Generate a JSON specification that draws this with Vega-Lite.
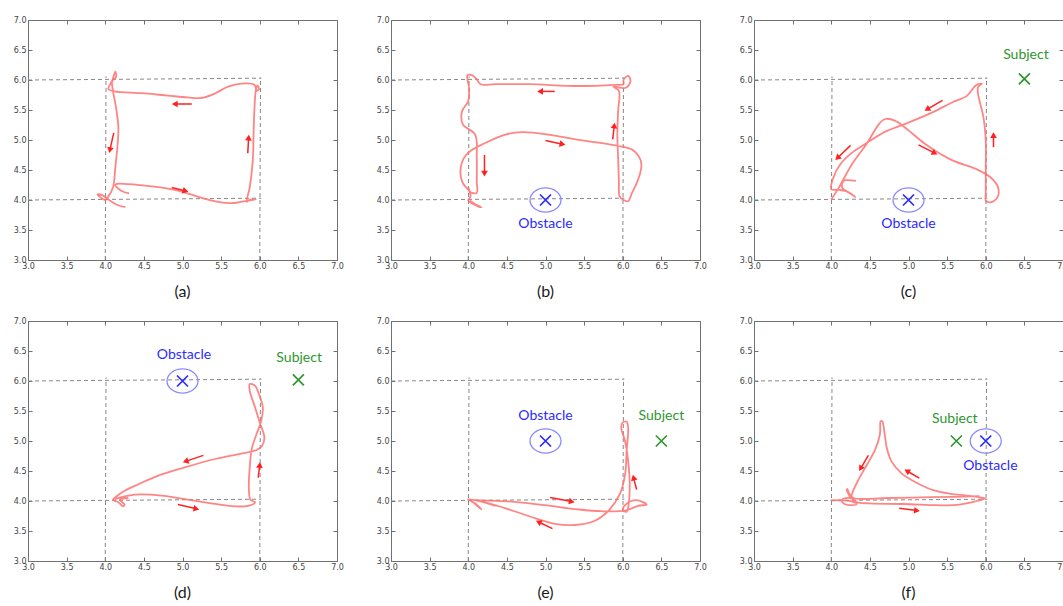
{
"$schema":"https://vega.github.io/schema/vega-lite/v6.json",
"padding":{"left":12,"top":15,"right":5,"bottom":5},
"config":{
 "view":{"stroke":"#707070","strokeWidth":1},
 "axis":{"domain":false,"grid":false,"tickSize":-4,"tickColor":"#707070","labelPadding":6,"labelFont":"DejaVu Sans","labelFontSize":8,"labelColor":"#444","tickCount":8,"format":".1f","title":null,"labelFlush":false,"labelOverlap":false},
 "title":{"orient":"bottom","offset":14,"font":"Lato","fontSize":16,"fontWeight":"normal","color":"#1a1a1a"}
},
"datasets":{
 "guides":[{"x":3,"y":4,"x2":6.02,"y2":4.03},{"x":3,"y":6,"x2":6.02,"y2":6.03},{"x":4,"y":3,"x2":4.01,"y2":6.06},{"x":6,"y":3,"x2":6.01,"y2":6.04}],
 "traj":[
{"p":"a","i":0,"x":4.31,"y":4.11},{"p":"a","i":1,"x":4.2,"y":4.16},{"p":"a","i":2,"x":4.13,"y":4.25},{"p":"a","i":3,"x":4.15,"y":4.27},{"p":"a","i":4,"x":4.51,"y":4.24},{"p":"a","i":5,"x":4.9,"y":4.17},{"p":"a","i":6,"x":5.24,"y":4.04},{"p":"a","i":7,"x":5.5,"y":3.96},{"p":"a","i":8,"x":5.67,"y":3.95},{"p":"a","i":9,"x":5.85,"y":3.99},{"p":"a","i":10,"x":5.95,"y":4.01},{"p":"a","i":11,"x":5.86,"y":4.0},{"p":"a","i":12,"x":5.83,"y":3.97},{"p":"a","i":13,"x":5.87,"y":4.21},{"p":"a","i":14,"x":5.91,"y":4.66},{"p":"a","i":15,"x":5.92,"y":5.1},{"p":"a","i":16,"x":5.93,"y":5.49},{"p":"a","i":17,"x":5.95,"y":5.83},{"p":"a","i":18,"x":5.97,"y":5.91},{"p":"a","i":19,"x":5.99,"y":5.85},{"p":"a","i":20,"x":5.96,"y":5.82},{"p":"a","i":21,"x":5.93,"y":5.92},{"p":"a","i":22,"x":5.76,"y":5.94},{"p":"a","i":23,"x":5.59,"y":5.89},{"p":"a","i":24,"x":5.41,"y":5.77},{"p":"a","i":25,"x":5.24,"y":5.7},{"p":"a","i":26,"x":5.07,"y":5.71},{"p":"a","i":27,"x":4.81,"y":5.74},{"p":"a","i":28,"x":4.47,"y":5.78},{"p":"a","i":29,"x":4.12,"y":5.81},{"p":"a","i":30,"x":4.04,"y":5.85},{"p":"a","i":31,"x":4.09,"y":5.99},{"p":"a","i":32,"x":4.13,"y":6.14},{"p":"a","i":33,"x":4.14,"y":6.05},{"p":"a","i":34,"x":4.09,"y":5.98},{"p":"a","i":35,"x":4.1,"y":5.82},{"p":"a","i":36,"x":4.14,"y":5.54},{"p":"a","i":37,"x":4.17,"y":5.21},{"p":"a","i":38,"x":4.16,"y":4.93},{"p":"a","i":39,"x":4.13,"y":4.54},{"p":"a","i":40,"x":4.1,"y":4.21},{"p":"a","i":41,"x":4.03,"y":4.04},{"p":"a","i":42,"x":4.0,"y":4.0},{"p":"a","i":43,"x":3.9,"y":4.09},{"p":"a","i":44,"x":3.96,"y":4.08},{"p":"a","i":45,"x":4.05,"y":4.0},{"p":"a","i":46,"x":4.15,"y":3.92},{"p":"a","i":47,"x":4.26,"y":3.88},
{"p":"b","i":0,"x":4.01,"y":4.16},{"p":"b","i":1,"x":3.92,"y":4.31},{"p":"b","i":2,"x":3.91,"y":4.59},{"p":"b","i":3,"x":4.0,"y":4.79},{"p":"b","i":4,"x":4.22,"y":4.95},{"p":"b","i":5,"x":4.48,"y":5.09},{"p":"b","i":6,"x":4.7,"y":5.13},{"p":"b","i":7,"x":5.04,"y":5.09},{"p":"b","i":8,"x":5.39,"y":5.01},{"p":"b","i":9,"x":5.91,"y":4.91},{"p":"b","i":10,"x":6.12,"y":4.84},{"p":"b","i":11,"x":6.23,"y":4.67},{"p":"b","i":12,"x":6.24,"y":4.54},{"p":"b","i":13,"x":6.19,"y":4.31},{"p":"b","i":14,"x":6.12,"y":4.12},{"p":"b","i":15,"x":6.07,"y":3.98},{"p":"b","i":16,"x":6.01,"y":4.0},{"p":"b","i":17,"x":5.96,"y":4.06},{"p":"b","i":18,"x":5.95,"y":4.31},{"p":"b","i":19,"x":5.94,"y":4.7},{"p":"b","i":20,"x":5.93,"y":5.09},{"p":"b","i":21,"x":5.94,"y":5.48},{"p":"b","i":22,"x":5.95,"y":5.82},{"p":"b","i":23,"x":5.88,"y":5.89},{"p":"b","i":24,"x":6.04,"y":5.87},{"p":"b","i":25,"x":6.1,"y":5.98},{"p":"b","i":26,"x":6.07,"y":6.07},{"p":"b","i":27,"x":6.01,"y":6.0},{"p":"b","i":28,"x":6.01,"y":5.93},{"p":"b","i":29,"x":5.91,"y":5.92},{"p":"b","i":30,"x":5.43,"y":5.9},{"p":"b","i":31,"x":4.78,"y":5.93},{"p":"b","i":32,"x":4.35,"y":5.93},{"p":"b","i":33,"x":4.16,"y":5.93},{"p":"b","i":34,"x":4.11,"y":6.01},{"p":"b","i":35,"x":4.05,"y":6.08},{"p":"b","i":36,"x":3.99,"y":6.08},{"p":"b","i":37,"x":3.99,"y":6.01},{"p":"b","i":38,"x":4.01,"y":5.87},{"p":"b","i":39,"x":4.0,"y":5.65},{"p":"b","i":40,"x":3.92,"y":5.48},{"p":"b","i":41,"x":3.93,"y":5.26},{"p":"b","i":42,"x":4.09,"y":5.09},{"p":"b","i":43,"x":4.11,"y":4.7},{"p":"b","i":44,"x":4.11,"y":4.31},{"p":"b","i":45,"x":4.11,"y":4.12},{"p":"b","i":46,"x":4.03,"y":4.13},{"p":"b","i":47,"x":4.0,"y":4.2},{"p":"b","i":48,"x":4.03,"y":4.06},{"p":"b","i":49,"x":4.0,"y":3.99},{"p":"b","i":50,"x":4.07,"y":3.93},{"p":"b","i":51,"x":4.13,"y":3.89},{"p":"b","i":52,"x":4.17,"y":3.88},{"p":"b","i":53,"x":4.09,"y":3.93},{"p":"b","i":54,"x":4.02,"y":3.99},
{"p":"c","i":0,"x":4.0,"y":4.01},{"p":"c","i":1,"x":4.1,"y":4.21},{"p":"c","i":2,"x":4.27,"y":4.6},{"p":"c","i":3,"x":4.47,"y":4.96},{"p":"c","i":4,"x":4.62,"y":5.27},{"p":"c","i":5,"x":4.7,"y":5.35},{"p":"c","i":6,"x":4.83,"y":5.32},{"p":"c","i":7,"x":5.0,"y":5.16},{"p":"c","i":8,"x":5.22,"y":4.93},{"p":"c","i":9,"x":5.57,"y":4.66},{"p":"c","i":10,"x":5.87,"y":4.52},{"p":"c","i":11,"x":6.06,"y":4.38},{"p":"c","i":12,"x":6.16,"y":4.21},{"p":"c","i":13,"x":6.15,"y":4.04},{"p":"c","i":14,"x":6.06,"y":3.96},{"p":"c","i":15,"x":6.0,"y":3.99},{"p":"c","i":16,"x":6.0,"y":4.1},{"p":"c","i":17,"x":6.0,"y":4.54},{"p":"c","i":18,"x":6.0,"y":4.99},{"p":"c","i":19,"x":5.97,"y":5.38},{"p":"c","i":20,"x":5.93,"y":5.6},{"p":"c","i":21,"x":5.9,"y":5.77},{"p":"c","i":22,"x":5.9,"y":5.88},{"p":"c","i":23,"x":5.95,"y":5.94},{"p":"c","i":24,"x":5.87,"y":5.91},{"p":"c","i":25,"x":5.76,"y":5.74},{"p":"c","i":26,"x":5.57,"y":5.63},{"p":"c","i":27,"x":5.31,"y":5.46},{"p":"c","i":28,"x":4.96,"y":5.27},{"p":"c","i":29,"x":4.7,"y":5.14},{"p":"c","i":30,"x":4.47,"y":4.96},{"p":"c","i":31,"x":4.27,"y":4.79},{"p":"c","i":32,"x":4.12,"y":4.6},{"p":"c","i":33,"x":4.03,"y":4.38},{"p":"c","i":34,"x":4.0,"y":4.18},{"p":"c","i":35,"x":4.1,"y":4.17},{"p":"c","i":36,"x":4.21,"y":4.14},{"p":"c","i":37,"x":4.31,"y":4.05},{"p":"c","i":38,"x":4.27,"y":4.09},{"p":"c","i":39,"x":4.14,"y":4.21},{"p":"c","i":40,"x":4.16,"y":4.32},{"p":"c","i":41,"x":4.21,"y":4.33},{"p":"c","i":42,"x":4.32,"y":4.32},
{"p":"d","i":0,"x":4.12,"y":4.03},{"p":"d","i":1,"x":4.3,"y":4.09},{"p":"d","i":2,"x":4.47,"y":4.11},{"p":"d","i":3,"x":4.73,"y":4.09},{"p":"d","i":4,"x":5.03,"y":4.03},{"p":"d","i":5,"x":5.33,"y":3.97},{"p":"d","i":6,"x":5.68,"y":3.91},{"p":"d","i":7,"x":5.85,"y":3.92},{"p":"d","i":8,"x":5.94,"y":3.98},{"p":"d","i":9,"x":5.88,"y":4.02},{"p":"d","i":10,"x":5.86,"y":4.17},{"p":"d","i":11,"x":5.87,"y":4.56},{"p":"d","i":12,"x":5.9,"y":4.89},{"p":"d","i":13,"x":5.96,"y":5.12},{"p":"d","i":14,"x":6.02,"y":5.34},{"p":"d","i":15,"x":6.04,"y":5.56},{"p":"d","i":16,"x":5.99,"y":5.78},{"p":"d","i":17,"x":5.94,"y":5.92},{"p":"d","i":18,"x":5.87,"y":5.95},{"p":"d","i":19,"x":5.87,"y":5.84},{"p":"d","i":20,"x":5.94,"y":5.56},{"p":"d","i":21,"x":6.0,"y":5.31},{"p":"d","i":22,"x":6.06,"y":5.06},{"p":"d","i":23,"x":6.03,"y":4.92},{"p":"d","i":24,"x":5.96,"y":4.85},{"p":"d","i":25,"x":5.76,"y":4.79},{"p":"d","i":26,"x":5.42,"y":4.7},{"p":"d","i":27,"x":5.03,"y":4.56},{"p":"d","i":28,"x":4.68,"y":4.42},{"p":"d","i":29,"x":4.43,"y":4.28},{"p":"d","i":30,"x":4.25,"y":4.17},{"p":"d","i":31,"x":4.14,"y":4.07},{"p":"d","i":32,"x":4.1,"y":4.02},{"p":"d","i":33,"x":4.17,"y":3.98},{"p":"d","i":34,"x":4.23,"y":3.91},{"p":"d","i":35,"x":4.25,"y":3.94},{"p":"d","i":36,"x":4.19,"y":4.02},{"p":"d","i":37,"x":4.3,"y":4.05},
{"p":"e","i":0,"x":3.99,"y":4.02},{"p":"e","i":1,"x":4.17,"y":4.01},{"p":"e","i":2,"x":4.56,"y":3.99},{"p":"e","i":3,"x":4.99,"y":3.93},{"p":"e","i":4,"x":5.42,"y":3.86},{"p":"e","i":5,"x":5.72,"y":3.83},{"p":"e","i":6,"x":6.03,"y":3.84},{"p":"e","i":7,"x":6.2,"y":3.92},{"p":"e","i":8,"x":6.31,"y":3.94},{"p":"e","i":9,"x":6.2,"y":4.01},{"p":"e","i":10,"x":6.11,"y":4.0},{"p":"e","i":11,"x":6.03,"y":3.93},{"p":"e","i":12,"x":6.0,"y":3.86},{"p":"e","i":13,"x":6.05,"y":3.82},{"p":"e","i":14,"x":6.07,"y":3.89},{"p":"e","i":15,"x":6.09,"y":4.22},{"p":"e","i":16,"x":6.07,"y":4.67},{"p":"e","i":17,"x":6.03,"y":5.0},{"p":"e","i":18,"x":5.98,"y":5.22},{"p":"e","i":19,"x":6.0,"y":5.31},{"p":"e","i":20,"x":6.05,"y":5.32},{"p":"e","i":21,"x":6.07,"y":5.22},{"p":"e","i":22,"x":6.05,"y":4.83},{"p":"e","i":23,"x":6.03,"y":4.44},{"p":"e","i":24,"x":5.96,"y":4.11},{"p":"e","i":25,"x":5.81,"y":3.83},{"p":"e","i":26,"x":5.64,"y":3.67},{"p":"e","i":27,"x":5.38,"y":3.6},{"p":"e","i":28,"x":5.12,"y":3.62},{"p":"e","i":29,"x":4.78,"y":3.75},{"p":"e","i":30,"x":4.43,"y":3.9},{"p":"e","i":31,"x":4.17,"y":3.99},{"p":"e","i":32,"x":4.0,"y":4.03},{"p":"e","i":33,"x":4.11,"y":3.94},{"p":"e","i":34,"x":4.17,"y":3.86},{"p":"e","i":35,"x":4.05,"y":4.01},{"p":"e","i":36,"x":4.35,"y":3.92},
{"p":"f","i":0,"x":3.99,"y":4.01},{"p":"f","i":1,"x":4.16,"y":4.01},{"p":"f","i":2,"x":4.27,"y":3.99},{"p":"f","i":3,"x":4.33,"y":3.95},{"p":"f","i":4,"x":4.27,"y":3.93},{"p":"f","i":5,"x":4.16,"y":3.96},{"p":"f","i":6,"x":4.14,"y":4.02},{"p":"f","i":7,"x":4.25,"y":4.05},{"p":"f","i":8,"x":4.33,"y":3.98},{"p":"f","i":9,"x":4.5,"y":3.96},{"p":"f","i":10,"x":4.93,"y":3.95},{"p":"f","i":11,"x":5.37,"y":3.93},{"p":"f","i":12,"x":5.58,"y":3.93},{"p":"f","i":13,"x":5.75,"y":3.96},{"p":"f","i":14,"x":5.88,"y":4.0},{"p":"f","i":15,"x":5.99,"y":4.04},{"p":"f","i":16,"x":5.92,"y":4.06},{"p":"f","i":17,"x":5.75,"y":4.09},{"p":"f","i":18,"x":5.54,"y":4.12},{"p":"f","i":19,"x":5.32,"y":4.18},{"p":"f","i":20,"x":5.11,"y":4.3},{"p":"f","i":21,"x":4.91,"y":4.46},{"p":"f","i":22,"x":4.78,"y":4.66},{"p":"f","i":23,"x":4.72,"y":4.88},{"p":"f","i":24,"x":4.69,"y":5.13},{"p":"f","i":25,"x":4.66,"y":5.33},{"p":"f","i":26,"x":4.64,"y":5.33},{"p":"f","i":27,"x":4.63,"y":5.11},{"p":"f","i":28,"x":4.57,"y":4.86},{"p":"f","i":29,"x":4.46,"y":4.6},{"p":"f","i":30,"x":4.35,"y":4.35},{"p":"f","i":31,"x":4.28,"y":4.16},{"p":"f","i":32,"x":4.25,"y":4.05},{"p":"f","i":33,"x":4.23,"y":4.1},{"p":"f","i":34,"x":4.2,"y":4.19},{"p":"f","i":35,"x":4.21,"y":4.2},{"p":"f","i":36,"x":4.23,"y":4.13},{"p":"f","i":37,"x":4.29,"y":4.05},{"p":"f","i":38,"x":4.72,"y":4.05},{"p":"f","i":39,"x":5.15,"y":4.06},{"p":"f","i":40,"x":5.58,"y":4.07},{"p":"f","i":41,"x":5.92,"y":4.08}
 ],
 "arrows":[
{"p":"a","x":5.12,"y":5.6,"x2":4.9,"y2":5.6},{"p":"a","x":4.11,"y":5.12,"x2":4.06,"y2":4.83},{"p":"a","x":4.86,"y":4.21,"x2":5.04,"y2":4.15},{"p":"a","x":5.845,"y":4.78,"x2":5.856,"y2":5.04},
{"p":"b","x":5.12,"y":5.81,"x2":4.93,"y2":5.81},{"p":"b","x":5.87,"y":5.01,"x2":5.89,"y2":5.24},{"p":"b","x":5.0,"y":4.99,"x2":5.22,"y2":4.93},{"p":"b","x":4.21,"y":4.75,"x2":4.21,"y2":4.44},
{"p":"c","x":5.44,"y":5.66,"x2":5.24,"y2":5.51},{"p":"c","x":4.25,"y":4.91,"x2":4.08,"y2":4.7},{"p":"c","x":5.13,"y":4.92,"x2":5.34,"y2":4.78},{"p":"c","x":6.1,"y":4.88,"x2":6.1,"y2":5.08},
{"p":"d","x":5.27,"y":4.76,"x2":5.04,"y2":4.66},{"p":"d","x":4.94,"y":3.94,"x2":5.18,"y2":3.87},{"p":"d","x":5.98,"y":4.39,"x2":6.0,"y2":4.6},
{"p":"e","x":5.06,"y":4.06,"x2":5.34,"y2":3.99},{"p":"e","x":5.09,"y":3.54,"x2":4.91,"y2":3.65},{"p":"e","x":6.18,"y":4.19,"x2":6.14,"y2":4.39},
{"p":"f","x":4.48,"y":4.76,"x2":4.38,"y2":4.54},{"p":"f","x":5.14,"y":4.38,"x2":4.98,"y2":4.5},{"p":"f","x":4.88,"y":3.88,"x2":5.11,"y2":3.84}
 ],
 "markers":[
{"p":"b","k":"obstacle","x":5.0,"y":4.0},
{"p":"c","k":"obstacle","x":5.0,"y":4.0},{"p":"c","k":"subject","x":6.5,"y":6.02},
{"p":"d","k":"obstacle","x":5.0,"y":6.0},{"p":"d","k":"subject","x":6.5,"y":6.02},
{"p":"e","k":"obstacle","x":5.0,"y":5.0},{"p":"e","k":"subject","x":6.5,"y":5.0},
{"p":"f","k":"subject","x":5.62,"y":5.0},{"p":"f","k":"obstacle","x":6.0,"y":5.0}
 ],
 "labels":[
{"p":"b","k":"obstacle","x":5.0,"y":3.6,"t":"Obstacle"},
{"p":"c","k":"obstacle","x":5.0,"y":3.6,"t":"Obstacle"},{"p":"c","k":"subject","x":6.52,"y":6.42,"t":"Subject"},
{"p":"d","k":"obstacle","x":5.02,"y":6.43,"t":"Obstacle"},{"p":"d","k":"subject","x":6.51,"y":6.38,"t":"Subject"},
{"p":"e","k":"obstacle","x":5.0,"y":5.41,"t":"Obstacle"},{"p":"e","k":"subject","x":6.5,"y":5.41,"t":"Subject"},
{"p":"f","k":"subject","x":5.6,"y":5.37,"t":"Subject"},{"p":"f","k":"obstacle","x":6.06,"y":4.59,"t":"Obstacle"}
 ]
},
"columns":3,
"spacing":{"row":61,"column":54},
"bounds":"flush",
"concat":[
{"width":309,"height":240,"title":{"text":"(a)"},"resolve":{"axis":{"x":"independent","y":"independent"}},"layer":[
 {"data":{"name":"guides"},"mark":{"type":"rule","color":"#888","strokeDash":[4,3],"strokeWidth":1},"encoding":{"x":{"field":"x","type":"quantitative","scale":{"domain":[3,7],"nice":false,"zero":false},"axis":{"orient":"bottom"}},"y":{"field":"y","type":"quantitative","scale":{"domain":[3,7],"nice":false,"zero":false},"axis":{"orient":"left"}},"x2":{"field":"x2"},"y2":{"field":"y2"}}},
 {"data":{"name":"traj"},"transform":[{"filter":"datum.p==='a'"}],"mark":{"type":"line","interpolate":"catmull-rom","color":"#ff7070","strokeWidth":1.8,"opacity":0.85},"encoding":{"x":{"field":"x","type":"quantitative","axis":{"orient":"top","labels":false}},"y":{"field":"y","type":"quantitative","axis":{"orient":"right","labels":false}},"order":{"field":"i","type":"quantitative"}}},
 {"data":{"name":"arrows"},"transform":[{"filter":"datum.p==='a'"}],"mark":{"type":"rule","color":"#ff2020","strokeWidth":1.5},"encoding":{"x":{"field":"x","type":"quantitative","axis":null},"y":{"field":"y","type":"quantitative","axis":null},"x2":{"field":"x2"},"y2":{"field":"y2"}}},
 {"data":{"name":"arrows"},"transform":[{"filter":"datum.p==='a'"},{"calculate":"atan2(-(datum.y2-datum.y)*60,(datum.x2-datum.x)*77.25)*180/PI","as":"a"}],"mark":{"type":"point","shape":"triangle-right","size":45,"filled":true,"color":"#ff2020","opacity":1},"encoding":{"x":{"field":"x2","type":"quantitative","axis":null},"y":{"field":"y2","type":"quantitative","axis":null},"angle":{"field":"a","type":"quantitative","scale":null}}}
]},
{"width":309,"height":240,"title":{"text":"(b)"},"resolve":{"axis":{"x":"independent","y":"independent"}},"layer":[
 {"data":{"name":"guides"},"mark":{"type":"rule","color":"#888","strokeDash":[4,3],"strokeWidth":1},"encoding":{"x":{"field":"x","type":"quantitative","scale":{"domain":[3,7],"nice":false,"zero":false},"axis":{"orient":"bottom"}},"y":{"field":"y","type":"quantitative","scale":{"domain":[3,7],"nice":false,"zero":false},"axis":{"orient":"left"}},"x2":{"field":"x2"},"y2":{"field":"y2"}}},
 {"data":{"name":"traj"},"transform":[{"filter":"datum.p==='b'"}],"mark":{"type":"line","interpolate":"catmull-rom","color":"#ff7070","strokeWidth":1.8,"opacity":0.85},"encoding":{"x":{"field":"x","type":"quantitative","axis":{"orient":"top","labels":false}},"y":{"field":"y","type":"quantitative","axis":{"orient":"right","labels":false}},"order":{"field":"i","type":"quantitative"}}},
 {"data":{"name":"markers"},"transform":[{"filter":"datum.p==='b' && datum.k==='obstacle'"}],"mark":{"type":"point","shape":"M-1,0A1,0.78,0,1,0,1,0A1,0.78,0,1,0,-1,0Z","size":961,"filled":false,"color":"#8a8aff","strokeWidth":1.3,"opacity":1},"encoding":{"x":{"field":"x","type":"quantitative","axis":null},"y":{"field":"y","type":"quantitative","axis":null}}},
 {"data":{"name":"markers"},"transform":[{"filter":"datum.p==='b'"}],"mark":{"type":"point","shape":"M-1,-1L1,1M-1,1L1,-1","size":121,"filled":false,"strokeWidth":1.7,"opacity":1},"encoding":{"x":{"field":"x","type":"quantitative","axis":null},"y":{"field":"y","type":"quantitative","axis":null},"color":{"field":"k","type":"nominal","scale":{"domain":["obstacle","subject"],"range":["#2b2bff","#2e962e"]},"legend":null}}},
 {"data":{"name":"arrows"},"transform":[{"filter":"datum.p==='b'"}],"mark":{"type":"rule","color":"#ff2020","strokeWidth":1.5},"encoding":{"x":{"field":"x","type":"quantitative","axis":null},"y":{"field":"y","type":"quantitative","axis":null},"x2":{"field":"x2"},"y2":{"field":"y2"}}},
 {"data":{"name":"arrows"},"transform":[{"filter":"datum.p==='b'"},{"calculate":"atan2(-(datum.y2-datum.y)*60,(datum.x2-datum.x)*77.25)*180/PI","as":"a"}],"mark":{"type":"point","shape":"triangle-right","size":45,"filled":true,"color":"#ff2020","opacity":1},"encoding":{"x":{"field":"x2","type":"quantitative","axis":null},"y":{"field":"y2","type":"quantitative","axis":null},"angle":{"field":"a","type":"quantitative","scale":null}}},
 {"data":{"name":"labels"},"transform":[{"filter":"datum.p==='b'"}],"mark":{"type":"text","font":"Lato","fontSize":14,"baseline":"middle"},"encoding":{"x":{"field":"x","type":"quantitative","axis":null},"y":{"field":"y","type":"quantitative","axis":null},"text":{"field":"t"},"color":{"field":"k","type":"nominal","scale":{"domain":["obstacle","subject"],"range":["#2b2bff","#2e962e"]},"legend":null}}}
]},
{"width":309,"height":240,"title":{"text":"(c)"},"resolve":{"axis":{"x":"independent","y":"independent"}},"layer":[
 {"data":{"name":"guides"},"mark":{"type":"rule","color":"#888","strokeDash":[4,3],"strokeWidth":1},"encoding":{"x":{"field":"x","type":"quantitative","scale":{"domain":[3,7],"nice":false,"zero":false},"axis":{"orient":"bottom"}},"y":{"field":"y","type":"quantitative","scale":{"domain":[3,7],"nice":false,"zero":false},"axis":{"orient":"left"}},"x2":{"field":"x2"},"y2":{"field":"y2"}}},
 {"data":{"name":"traj"},"transform":[{"filter":"datum.p==='c'"}],"mark":{"type":"line","interpolate":"catmull-rom","color":"#ff7070","strokeWidth":1.8,"opacity":0.85},"encoding":{"x":{"field":"x","type":"quantitative","axis":{"orient":"top","labels":false}},"y":{"field":"y","type":"quantitative","axis":{"orient":"right","labels":false}},"order":{"field":"i","type":"quantitative"}}},
 {"data":{"name":"markers"},"transform":[{"filter":"datum.p==='c' && datum.k==='obstacle'"}],"mark":{"type":"point","shape":"M-1,0A1,0.78,0,1,0,1,0A1,0.78,0,1,0,-1,0Z","size":961,"filled":false,"color":"#8a8aff","strokeWidth":1.3,"opacity":1},"encoding":{"x":{"field":"x","type":"quantitative","axis":null},"y":{"field":"y","type":"quantitative","axis":null}}},
 {"data":{"name":"markers"},"transform":[{"filter":"datum.p==='c'"}],"mark":{"type":"point","shape":"M-1,-1L1,1M-1,1L1,-1","size":121,"filled":false,"strokeWidth":1.7,"opacity":1},"encoding":{"x":{"field":"x","type":"quantitative","axis":null},"y":{"field":"y","type":"quantitative","axis":null},"color":{"field":"k","type":"nominal","scale":{"domain":["obstacle","subject"],"range":["#2b2bff","#2e962e"]},"legend":null}}},
 {"data":{"name":"arrows"},"transform":[{"filter":"datum.p==='c'"}],"mark":{"type":"rule","color":"#ff2020","strokeWidth":1.5},"encoding":{"x":{"field":"x","type":"quantitative","axis":null},"y":{"field":"y","type":"quantitative","axis":null},"x2":{"field":"x2"},"y2":{"field":"y2"}}},
 {"data":{"name":"arrows"},"transform":[{"filter":"datum.p==='c'"},{"calculate":"atan2(-(datum.y2-datum.y)*60,(datum.x2-datum.x)*77.25)*180/PI","as":"a"}],"mark":{"type":"point","shape":"triangle-right","size":45,"filled":true,"color":"#ff2020","opacity":1},"encoding":{"x":{"field":"x2","type":"quantitative","axis":null},"y":{"field":"y2","type":"quantitative","axis":null},"angle":{"field":"a","type":"quantitative","scale":null}}},
 {"data":{"name":"labels"},"transform":[{"filter":"datum.p==='c'"}],"mark":{"type":"text","font":"Lato","fontSize":14,"baseline":"middle"},"encoding":{"x":{"field":"x","type":"quantitative","axis":null},"y":{"field":"y","type":"quantitative","axis":null},"text":{"field":"t"},"color":{"field":"k","type":"nominal","scale":{"domain":["obstacle","subject"],"range":["#2b2bff","#2e962e"]},"legend":null}}}
]},
{"width":309,"height":240,"title":{"text":"(d)"},"resolve":{"axis":{"x":"independent","y":"independent"}},"layer":[
 {"data":{"name":"guides"},"mark":{"type":"rule","color":"#888","strokeDash":[4,3],"strokeWidth":1},"encoding":{"x":{"field":"x","type":"quantitative","scale":{"domain":[3,7],"nice":false,"zero":false},"axis":{"orient":"bottom"}},"y":{"field":"y","type":"quantitative","scale":{"domain":[3,7],"nice":false,"zero":false},"axis":{"orient":"left"}},"x2":{"field":"x2"},"y2":{"field":"y2"}}},
 {"data":{"name":"traj"},"transform":[{"filter":"datum.p==='d'"}],"mark":{"type":"line","interpolate":"catmull-rom","color":"#ff7070","strokeWidth":1.8,"opacity":0.85},"encoding":{"x":{"field":"x","type":"quantitative","axis":{"orient":"top","labels":false}},"y":{"field":"y","type":"quantitative","axis":{"orient":"right","labels":false}},"order":{"field":"i","type":"quantitative"}}},
 {"data":{"name":"markers"},"transform":[{"filter":"datum.p==='d' && datum.k==='obstacle'"}],"mark":{"type":"point","shape":"M-1,0A1,0.78,0,1,0,1,0A1,0.78,0,1,0,-1,0Z","size":961,"filled":false,"color":"#8a8aff","strokeWidth":1.3,"opacity":1},"encoding":{"x":{"field":"x","type":"quantitative","axis":null},"y":{"field":"y","type":"quantitative","axis":null}}},
 {"data":{"name":"markers"},"transform":[{"filter":"datum.p==='d'"}],"mark":{"type":"point","shape":"M-1,-1L1,1M-1,1L1,-1","size":121,"filled":false,"strokeWidth":1.7,"opacity":1},"encoding":{"x":{"field":"x","type":"quantitative","axis":null},"y":{"field":"y","type":"quantitative","axis":null},"color":{"field":"k","type":"nominal","scale":{"domain":["obstacle","subject"],"range":["#2b2bff","#2e962e"]},"legend":null}}},
 {"data":{"name":"arrows"},"transform":[{"filter":"datum.p==='d'"}],"mark":{"type":"rule","color":"#ff2020","strokeWidth":1.5},"encoding":{"x":{"field":"x","type":"quantitative","axis":null},"y":{"field":"y","type":"quantitative","axis":null},"x2":{"field":"x2"},"y2":{"field":"y2"}}},
 {"data":{"name":"arrows"},"transform":[{"filter":"datum.p==='d'"},{"calculate":"atan2(-(datum.y2-datum.y)*60,(datum.x2-datum.x)*77.25)*180/PI","as":"a"}],"mark":{"type":"point","shape":"triangle-right","size":45,"filled":true,"color":"#ff2020","opacity":1},"encoding":{"x":{"field":"x2","type":"quantitative","axis":null},"y":{"field":"y2","type":"quantitative","axis":null},"angle":{"field":"a","type":"quantitative","scale":null}}},
 {"data":{"name":"labels"},"transform":[{"filter":"datum.p==='d'"}],"mark":{"type":"text","font":"Lato","fontSize":14,"baseline":"middle"},"encoding":{"x":{"field":"x","type":"quantitative","axis":null},"y":{"field":"y","type":"quantitative","axis":null},"text":{"field":"t"},"color":{"field":"k","type":"nominal","scale":{"domain":["obstacle","subject"],"range":["#2b2bff","#2e962e"]},"legend":null}}}
]},
{"width":309,"height":240,"title":{"text":"(e)"},"resolve":{"axis":{"x":"independent","y":"independent"}},"layer":[
 {"data":{"name":"guides"},"mark":{"type":"rule","color":"#888","strokeDash":[4,3],"strokeWidth":1},"encoding":{"x":{"field":"x","type":"quantitative","scale":{"domain":[3,7],"nice":false,"zero":false},"axis":{"orient":"bottom"}},"y":{"field":"y","type":"quantitative","scale":{"domain":[3,7],"nice":false,"zero":false},"axis":{"orient":"left"}},"x2":{"field":"x2"},"y2":{"field":"y2"}}},
 {"data":{"name":"traj"},"transform":[{"filter":"datum.p==='e'"}],"mark":{"type":"line","interpolate":"catmull-rom","color":"#ff7070","strokeWidth":1.8,"opacity":0.85},"encoding":{"x":{"field":"x","type":"quantitative","axis":{"orient":"top","labels":false}},"y":{"field":"y","type":"quantitative","axis":{"orient":"right","labels":false}},"order":{"field":"i","type":"quantitative"}}},
 {"data":{"name":"markers"},"transform":[{"filter":"datum.p==='e' && datum.k==='obstacle'"}],"mark":{"type":"point","shape":"M-1,0A1,0.78,0,1,0,1,0A1,0.78,0,1,0,-1,0Z","size":961,"filled":false,"color":"#8a8aff","strokeWidth":1.3,"opacity":1},"encoding":{"x":{"field":"x","type":"quantitative","axis":null},"y":{"field":"y","type":"quantitative","axis":null}}},
 {"data":{"name":"markers"},"transform":[{"filter":"datum.p==='e'"}],"mark":{"type":"point","shape":"M-1,-1L1,1M-1,1L1,-1","size":121,"filled":false,"strokeWidth":1.7,"opacity":1},"encoding":{"x":{"field":"x","type":"quantitative","axis":null},"y":{"field":"y","type":"quantitative","axis":null},"color":{"field":"k","type":"nominal","scale":{"domain":["obstacle","subject"],"range":["#2b2bff","#2e962e"]},"legend":null}}},
 {"data":{"name":"arrows"},"transform":[{"filter":"datum.p==='e'"}],"mark":{"type":"rule","color":"#ff2020","strokeWidth":1.5},"encoding":{"x":{"field":"x","type":"quantitative","axis":null},"y":{"field":"y","type":"quantitative","axis":null},"x2":{"field":"x2"},"y2":{"field":"y2"}}},
 {"data":{"name":"arrows"},"transform":[{"filter":"datum.p==='e'"},{"calculate":"atan2(-(datum.y2-datum.y)*60,(datum.x2-datum.x)*77.25)*180/PI","as":"a"}],"mark":{"type":"point","shape":"triangle-right","size":45,"filled":true,"color":"#ff2020","opacity":1},"encoding":{"x":{"field":"x2","type":"quantitative","axis":null},"y":{"field":"y2","type":"quantitative","axis":null},"angle":{"field":"a","type":"quantitative","scale":null}}},
 {"data":{"name":"labels"},"transform":[{"filter":"datum.p==='e'"}],"mark":{"type":"text","font":"Lato","fontSize":14,"baseline":"middle"},"encoding":{"x":{"field":"x","type":"quantitative","axis":null},"y":{"field":"y","type":"quantitative","axis":null},"text":{"field":"t"},"color":{"field":"k","type":"nominal","scale":{"domain":["obstacle","subject"],"range":["#2b2bff","#2e962e"]},"legend":null}}}
]},
{"width":309,"height":240,"title":{"text":"(f)"},"resolve":{"axis":{"x":"independent","y":"independent"}},"layer":[
 {"data":{"name":"guides"},"mark":{"type":"rule","color":"#888","strokeDash":[4,3],"strokeWidth":1},"encoding":{"x":{"field":"x","type":"quantitative","scale":{"domain":[3,7],"nice":false,"zero":false},"axis":{"orient":"bottom"}},"y":{"field":"y","type":"quantitative","scale":{"domain":[3,7],"nice":false,"zero":false},"axis":{"orient":"left"}},"x2":{"field":"x2"},"y2":{"field":"y2"}}},
 {"data":{"name":"traj"},"transform":[{"filter":"datum.p==='f'"}],"mark":{"type":"line","interpolate":"catmull-rom","color":"#ff7070","strokeWidth":1.8,"opacity":0.85},"encoding":{"x":{"field":"x","type":"quantitative","axis":{"orient":"top","labels":false}},"y":{"field":"y","type":"quantitative","axis":{"orient":"right","labels":false}},"order":{"field":"i","type":"quantitative"}}},
 {"data":{"name":"markers"},"transform":[{"filter":"datum.p==='f' && datum.k==='obstacle'"}],"mark":{"type":"point","shape":"M-1,0A1,0.78,0,1,0,1,0A1,0.78,0,1,0,-1,0Z","size":961,"filled":false,"color":"#8a8aff","strokeWidth":1.3,"opacity":1},"encoding":{"x":{"field":"x","type":"quantitative","axis":null},"y":{"field":"y","type":"quantitative","axis":null}}},
 {"data":{"name":"markers"},"transform":[{"filter":"datum.p==='f'"}],"mark":{"type":"point","shape":"M-1,-1L1,1M-1,1L1,-1","size":121,"filled":false,"strokeWidth":1.7,"opacity":1},"encoding":{"x":{"field":"x","type":"quantitative","axis":null},"y":{"field":"y","type":"quantitative","axis":null},"color":{"field":"k","type":"nominal","scale":{"domain":["obstacle","subject"],"range":["#2b2bff","#2e962e"]},"legend":null}}},
 {"data":{"name":"arrows"},"transform":[{"filter":"datum.p==='f'"}],"mark":{"type":"rule","color":"#ff2020","strokeWidth":1.5},"encoding":{"x":{"field":"x","type":"quantitative","axis":null},"y":{"field":"y","type":"quantitative","axis":null},"x2":{"field":"x2"},"y2":{"field":"y2"}}},
 {"data":{"name":"arrows"},"transform":[{"filter":"datum.p==='f'"},{"calculate":"atan2(-(datum.y2-datum.y)*60,(datum.x2-datum.x)*77.25)*180/PI","as":"a"}],"mark":{"type":"point","shape":"triangle-right","size":45,"filled":true,"color":"#ff2020","opacity":1},"encoding":{"x":{"field":"x2","type":"quantitative","axis":null},"y":{"field":"y2","type":"quantitative","axis":null},"angle":{"field":"a","type":"quantitative","scale":null}}},
 {"data":{"name":"labels"},"transform":[{"filter":"datum.p==='f'"}],"mark":{"type":"text","font":"Lato","fontSize":14,"baseline":"middle"},"encoding":{"x":{"field":"x","type":"quantitative","axis":null},"y":{"field":"y","type":"quantitative","axis":null},"text":{"field":"t"},"color":{"field":"k","type":"nominal","scale":{"domain":["obstacle","subject"],"range":["#2b2bff","#2e962e"]},"legend":null}}}
]}
]
}
